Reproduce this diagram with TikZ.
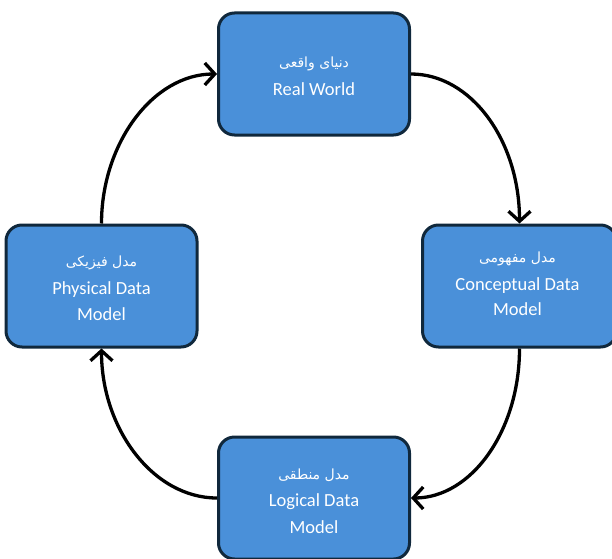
\documentclass[tikz,border=0pt]{standalone}
\usepackage{fontspec}
\setmainfont{Carlito}
\newfontfamily\arabicfont[Script=Arabic]{DejaVu Sans}
\TeXXeTstate=1
\usetikzlibrary{arrows.meta}
\definecolor{boxfill}{HTML}{4A90D9}
\definecolor{boxedge}{HTML}{10283C}
\tikzset{
  stagebox/.style={draw=boxedge, line width=3pt, fill=boxfill, rounded corners=16pt,
    minimum width=191pt, minimum height=122pt, inner sep=0pt},
  fa/.style={font=\arabicfont\fontsize{14}{16}\selectfont, text=white},
  en/.style={font=\fontsize{18.5}{21}\selectfont, text=white},
  flow/.style={line width=3.3pt, -{Straight Barb[length=10pt,width=22pt,line width=3.3pt]}}
}
\begin{document}
\begin{tikzpicture}[x=1pt,y=1pt]
\useasboundingbox (0,0) rectangle (612,558);
\begin{scope}
\clip (0,0) rectangle (612,558);
% the four stages of the modelling cycle
\node[stagebox] (world) at (314,484) {};
\node[stagebox, minimum width=194pt] (concept) at (519.5,272) {};
\node[stagebox] (logical) at (314,60) {};
\node[stagebox] (physical) at (101.5,272) {};
\end{scope}
% labels
\node[fa] (worldfa) at (314,494) {\beginR دنیای واقعی\endR};
\node[en] (worlden) at (314,469) {Real World};
\node[fa] (conceptfa) at (517.5,299) {\beginR مدل مفهومی\endR};
\node[en] (concepten) at (517.5,272) {Conceptual Data};
\node[en] (conceptm) at (517.5,249) {Model};
\node[fa] (logicalfa) at (314,83) {\beginR مدل منطقی\endR};
\node[en] (logicalen) at (314,56) {Logical Data};
\node[en] (logicalm) at (314,31) {Model};
\node[fa] (physicalfa) at (101.5,295) {\beginR مدل فیزیکی\endR};
\node[en] (physicalen) at (101.5,268) {Physical Data};
\node[en] (physicalm) at (101.5,244) {Model};
% cycle connectors
\draw[flow] (world.east) .. controls +(60,0) and +(0,83) .. (concept.north);
\draw[flow] (concept.south) .. controls +(0,-83) and +(60,0) .. (logical.east);
\draw[flow] (logical.west) .. controls +(-64,0) and +(0,-80) .. (physical.south);
\draw[flow] (physical.north) .. controls +(0,80) and +(-64,0) .. (world.west);
\end{tikzpicture}
\end{document}
